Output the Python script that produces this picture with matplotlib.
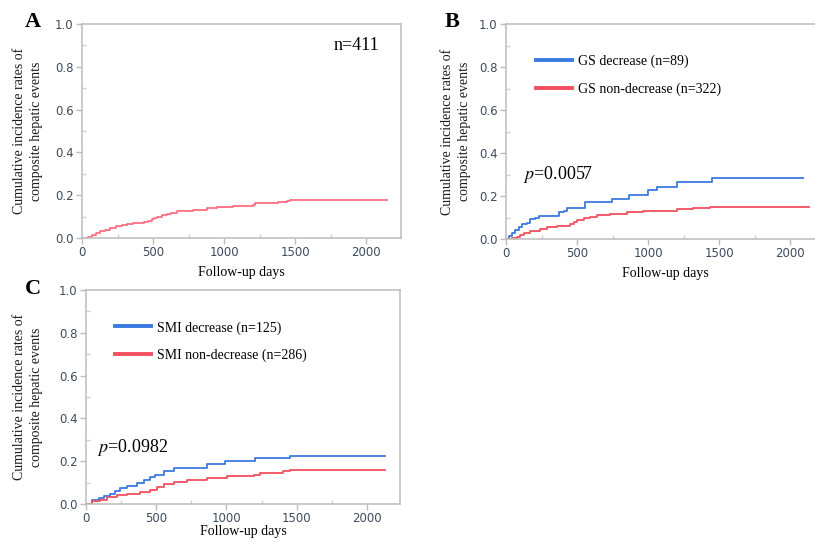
import matplotlib
matplotlib.use("Agg")
import matplotlib.pyplot as plt
from matplotlib.ticker import MultipleLocator

plt.rcParams["mathtext.fontset"] = "stix"

# ---------------- data ----------------
A_days = [0, 40, 70, 100, 125, 160, 200, 240, 280, 320, 360, 400, 440, 466, 490, 510, 530, 560, 595,
          630, 666, 720, 780, 830, 878, 950, 1000, 1066, 1130, 1207, 1219, 1300, 1380, 1442, 1466, 2148]
A_rate = [0, 0.004, 0.012, 0.022, 0.031, 0.038, 0.048, 0.055, 0.060, 0.065, 0.068, 0.072, 0.077, 0.080,
          0.088, 0.095, 0.100, 0.107, 0.113, 0.118, 0.124, 0.127, 0.130, 0.133, 0.140, 0.143, 0.146,
          0.148, 0.150, 0.152, 0.162, 0.164, 0.167, 0.171, 0.178, 0.178]

B_dec_days = [0, 20, 42, 66, 89, 113, 148, 171, 206, 230, 370, 406, 429, 558, 746, 863, 997, 1062,
              1203, 1449, 2094]
B_dec_rate = [0, 0.012, 0.026, 0.042, 0.057, 0.068, 0.076, 0.091, 0.100, 0.107, 0.124, 0.132, 0.143,
              0.171, 0.184, 0.205, 0.228, 0.243, 0.264, 0.284, 0.284]
B_non_days = [0, 40, 80, 101, 124, 171, 241, 288, 359, 452, 476, 499, 546, 593, 640, 734, 851, 968,
              1085, 1203, 1320, 1437, 2134]
B_non_rate = [0, 0.005, 0.011, 0.017, 0.026, 0.037, 0.048, 0.054, 0.060, 0.070, 0.081, 0.088, 0.096,
              0.104, 0.112, 0.118, 0.126, 0.130, 0.132, 0.140, 0.143, 0.147, 0.147]

C_dec_days = [0, 43, 90, 126, 173, 209, 244, 292, 363, 410, 458, 493, 553, 624, 861, 992, 1205, 1454, 2130]
C_dec_rate = [0, 0.020, 0.028, 0.039, 0.048, 0.059, 0.075, 0.082, 0.098, 0.110, 0.126, 0.137, 0.156,
              0.166, 0.188, 0.199, 0.213, 0.225, 0.225]
C_non_days = [0, 43, 102, 149, 221, 292, 387, 458, 505, 553, 624, 719, 861, 1004, 1193, 1240, 1406, 1454, 2130]
C_non_rate = [0, 0.012, 0.020, 0.031, 0.040, 0.047, 0.056, 0.064, 0.079, 0.093, 0.104, 0.114, 0.123,
              0.129, 0.135, 0.145, 0.152, 0.157, 0.157]

B_labels = ["GS decrease (n=89)", "GS non-decrease (n=322)"]
C_labels = ["SMI decrease (n=125)", "SMI non-decrease (n=286)"]
x_ticks = [0, 500, 1000, 1500, 2000]
y_ticks = [0.0, 0.2, 0.4, 0.6, 0.8, 1.0]
ylabel_text = "Cumulative incidence rates of\ncomposite hepatic events"
xlabel_text = "Follow-up days"
A_note = "n=411"
B_pval = "$p$=0.0057"
C_pval = "$p$=0.0982"

# ---------------- style ----------------
W, H = 815, 545
SERIF = "Liberation Serif"
TICKC = "#3d4b5c"
FRAME = "#bcbcbc"
BLUE = "#3a7be0"
RED = "#f2505f"
PINK = "#ff7080"

fig = plt.figure(figsize=(W / 100, H / 100), dpi=100)


def make_ax(left, right, top, bottom, xmax):
    ax = fig.add_axes([left / W, 1 - bottom / H, (right - left) / W, (bottom - top) / H])
    ax.set_xlim(0, xmax)
    ax.set_ylim(0, 1.0)
    ax.set_xticks(x_ticks)
    ax.set_yticks(y_ticks)
    ax.set_yticklabels([f"{v:.1f}" for v in y_ticks])
    ax.xaxis.set_minor_locator(MultipleLocator(250))
    ax.yaxis.set_minor_locator(MultipleLocator(0.1))
    for s in ax.spines.values():
        s.set_color(FRAME)
        s.set_linewidth(1.1)
    ax.tick_params(which="major", direction="out", length=4, width=1, color=FRAME,
                   labelsize=8.5, labelcolor=TICKC, pad=2)
    ax.tick_params(which="minor", direction="in", length=3, width=1, color="#d0d0d0")
    return ax


def decorate(ax, left, right, ylab_x_px, panel, panel_xy):
    width = right - left
    ax.text((ylab_x_px - left) / width, 0.5, ylabel_text, transform=ax.transAxes, rotation=90,
            ha="center", va="center", multialignment="center", fontfamily=SERIF, fontsize=10,
            linespacing=1.35, color="#1a1a1a")
    fig.text(panel_xy[0] / W, 1 - panel_xy[1] / H, panel, fontfamily=SERIF, fontweight="bold",
             fontsize=16, ha="center", va="center")


# Panel A
axA = make_ax(82, 401, 24, 238, 2246)
axA.step(A_days, A_rate, where="post", color=PINK, lw=1.3)
decorate(axA, 82, 401, 28, "A", (33, 22))
axA.text(0.79, 0.9, A_note, transform=axA.transAxes, fontfamily=SERIF, fontsize=13,
         ha="left", va="center")
axA.set_xlabel(xlabel_text, fontfamily=SERIF, fontsize=10, labelpad=4.5)

# Panel B
axB = make_ax(506, 825, 24, 239, 2246)
axB.step(B_dec_days, B_dec_rate, where="post", color=BLUE, lw=1.3, label=B_labels[0])
axB.step(B_non_days, B_non_rate, where="post", color=RED, lw=1.3, label=B_labels[1])
decorate(axB, 506, 825, 456, "B", (452, 22))
legB = axB.legend(loc="upper left", bbox_to_anchor=(0.094, 0.856), frameon=False, borderpad=0,
                  borderaxespad=0, handlelength=2.6, handletextpad=0.4, labelspacing=1.0,
                  prop={"family": SERIF, "size": 10})
for h in legB.legend_handles:
    h.set_linewidth(2.8)
axB.text(0.053, 0.30, B_pval, transform=axB.transAxes, fontfamily=SERIF, fontsize=13,
         ha="left", va="center")
axB.set_xlabel(xlabel_text, fontfamily=SERIF, fontsize=10, labelpad=4.5)

# Panel C
axC = make_ax(86, 400, 290, 504, 2236)
axC.step(C_dec_days, C_dec_rate, where="post", color=BLUE, lw=1.3, label=C_labels[0])
axC.step(C_non_days, C_non_rate, where="post", color=RED, lw=1.3, label=C_labels[1])
decorate(axC, 86, 400, 28, "C", (33, 289))
legC = axC.legend(loc="upper left", bbox_to_anchor=(0.092, 0.855), frameon=False, borderpad=0,
                  borderaxespad=0, handlelength=2.6, handletextpad=0.4, labelspacing=1.0,
                  prop={"family": SERIF, "size": 10})
for h in legC.legend_handles:
    h.set_linewidth(2.8)
axC.text(0.035, 0.262, C_pval, transform=axC.transAxes, fontfamily=SERIF, fontsize=13,
         ha="left", va="center")
axC.set_xlabel(xlabel_text, fontfamily=SERIF, fontsize=10, labelpad=0)

fig.savefig("out.png", dpi=100)
